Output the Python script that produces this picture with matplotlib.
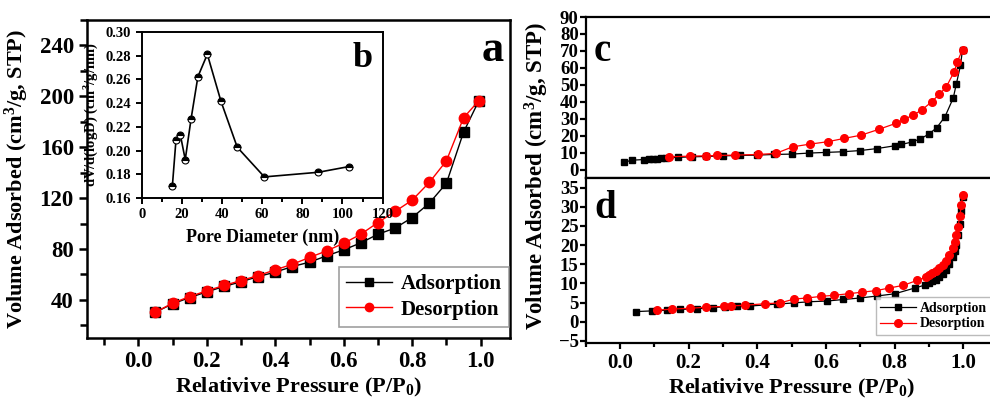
import numpy as np
import matplotlib.pyplot as plt
from matplotlib.ticker import MultipleLocator

plt.rcParams['font.family'] = 'Liberation Serif'
plt.rcParams['font.weight'] = 'bold'
plt.rcParams['axes.labelweight'] = 'bold'
plt.rcParams['mathtext.fontset'] = 'custom'
plt.rcParams['mathtext.rm'] = 'Liberation Serif:bold'
plt.rcParams['mathtext.bf'] = 'Liberation Serif:bold'
plt.rcParams['mathtext.it'] = 'Liberation Serif:bold'

# Panel a - isotherm
p_a = [0.05, 0.10, 0.15, 0.20, 0.25, 0.30, 0.35, 0.40, 0.45, 0.50,
       0.55, 0.60, 0.65, 0.70, 0.75, 0.80, 0.85, 0.90, 0.95, 0.995]
ads_a = [30.3, 36.9, 41.8, 46.3, 50.5, 54.2, 58.3, 61.8, 66.2, 69.6,
         74.6, 79.3, 84.8, 91.6, 96.4, 104.7, 116.0, 131.7, 171.8, 196.7]
des_a = [30.3, 37.4, 42.6, 47.1, 51.3, 55.2, 59.1, 63.6, 68.0, 73.3,
         78.5, 84.5, 91.6, 100.8, 109.5, 118.4, 132.3, 149.3, 183.1, 196.7]

# Panel b - pore size distribution (inset)
pore_d = [15.3, 17.1, 19.3, 21.7, 24.6, 28.0, 32.7, 39.5, 47.6, 61.1, 88.0, 103.2]
dvdlogd = [0.1704, 0.2092, 0.2129, 0.1924, 0.2267, 0.2623, 0.2812, 0.2415,
           0.2028, 0.1778, 0.1817, 0.1865]

# Panel c
p_c_ads = [0.013, 0.034, 0.070, 0.084, 0.097, 0.109, 0.120, 0.133, 0.17, 0.21,
           0.25, 0.30, 0.35, 0.40, 0.45, 0.50, 0.55, 0.60, 0.65, 0.70, 0.75,
           0.80, 0.82, 0.85, 0.874, 0.90, 0.923, 0.947, 0.971, 0.98, 0.992, 0.998]
v_c_ads = [4.3, 5.5, 5.9, 6.1, 6.3, 6.5, 6.7, 6.9, 7.2, 7.5, 7.7, 8.1, 8.3, 8.5,
           8.9, 9.1, 9.7, 10.1, 10.5, 11.2, 12.4, 14.0, 14.8, 16.2, 18.0, 20.9,
           24.7, 31.2, 42.2, 50.5, 61.4, 70.7]
p_c_des = [0.144, 0.203, 0.252, 0.283, 0.334, 0.402, 0.454, 0.503, 0.554, 0.605,
           0.654, 0.703, 0.754, 0.803, 0.828, 0.855, 0.879, 0.909, 0.930, 0.950,
           0.974, 0.983, 0.998]
v_c_des = [7.5, 7.9, 8.1, 8.3, 8.5, 8.9, 9.5, 13.4, 15.0, 16.4, 18.4, 20.3, 23.7,
           27.2, 29.6, 32.2, 35.1, 40.1, 44.4, 48.5, 57.8, 63.7, 70.7]

# Panel d
p_d_ads = [0.048, 0.094, 0.138, 0.176, 0.225, 0.271, 0.307, 0.341, 0.380, 0.457,
           0.506, 0.549, 0.603, 0.651, 0.700, 0.748, 0.801, 0.859, 0.89, 0.90,
           0.91, 0.92, 0.93, 0.94, 0.95, 0.96, 0.97, 0.975, 0.98, 0.985, 0.99,
           0.995, 0.998]
v_d_ads = [2.65, 2.83, 3.0, 3.2, 3.4, 3.7, 3.9, 4.0, 4.1, 4.6, 4.9, 5.2, 5.4, 5.8,
           6.2, 6.7, 7.3, 8.8, 9.6, 10.0, 10.5, 11.0, 11.7, 12.5, 13.5, 15.0,
           17.0, 18.5, 20.0, 22.5, 25.5, 29.0, 32.5]
p_d_des = [0.107, 0.152, 0.203, 0.252, 0.302, 0.322, 0.365, 0.422, 0.467, 0.506,
           0.545, 0.585, 0.624, 0.666, 0.704, 0.745, 0.785, 0.826, 0.866, 0.893,
           0.90, 0.91, 0.92, 0.93, 0.94, 0.95, 0.96, 0.97, 0.975, 0.98, 0.985,
           0.99, 0.995, 0.998]
v_d_des = [3.0, 3.3, 3.5, 3.8, 4.0, 4.1, 4.3, 4.7, 4.9, 5.9, 6.2, 6.6, 6.9, 7.3,
           7.7, 8.1, 8.8, 9.5, 10.8, 11.7, 12.1, 12.6, 13.2, 13.9, 14.8, 15.9,
           17.3, 19.3, 20.8, 22.5, 24.8, 27.5, 30.5, 33.0]


def style_axes(ax, lw=1.6, size=14, length=5):
    for s in ax.spines.values():
        s.set_linewidth(lw)
    ax.tick_params(which='both', direction='out', width=lw, labelsize=size,
                   top=False, right=False)
    ax.tick_params(which='major', length=length)
    ax.tick_params(which='minor', length=length * 0.8)


fig = plt.figure(figsize=(9.9, 4.0), dpi=100)

# ---- panel a ----
ax_a = fig.add_axes([0.0879, 0.155, 0.427, 0.795])
ax_a.plot(p_a, ads_a, '-s', color='black', ms=6.5, lw=1.0, label='Adsorption')
ax_a.plot(p_a, des_a, '-o', color='red', ms=7.5, lw=1.0, label='Desorption')
ax_a.set_xlim(-0.15, 1.085)
ax_a.set_ylim(10, 260)
ax_a.xaxis.set_major_locator(MultipleLocator(0.2))
ax_a.xaxis.set_minor_locator(MultipleLocator(0.1))
ax_a.yaxis.set_major_locator(MultipleLocator(40))
ax_a.yaxis.set_minor_locator(MultipleLocator(20))
style_axes(ax_a, lw=1.8, size=16.5, length=6)
ax_a.set_xlabel('Relativive Pressure (P/P$_\\mathbf{0}$)', fontsize=16, labelpad=3)
ax_a.set_ylabel('Volume Adsorbed (cm$^\\mathbf{3}$/g, STP)', fontsize=16, labelpad=6)
ax_a.text(0.985, 0.97, 'a', transform=ax_a.transAxes, ha='right', va='top',
          fontsize=32, fontweight='bold')
leg = ax_a.legend(loc='lower right', bbox_to_anchor=(0.998, 0.035), fontsize=15,
                  frameon=True, fancybox=False, edgecolor='#888888',
                  handlelength=2.2, borderpad=0.35, labelspacing=0.25,
                  handletextpad=0.4, borderaxespad=0, markerscale=0.8)
leg.get_frame().set_linewidth(1.2)

# ---- inset b ----
ax_b = fig.add_axes([0.1431, 0.505, 0.2434, 0.415])
ax_b.plot(pore_d, dvdlogd, '-o', color='black', ms=5, lw=1.2,
          fillstyle='top', markerfacecoloralt='white', markeredgewidth=0.8)
ax_b.set_xlim(0, 120)
ax_b.set_ylim(0.16, 0.30)
ax_b.xaxis.set_major_locator(MultipleLocator(20))
ax_b.xaxis.set_minor_locator(MultipleLocator(10))
ax_b.yaxis.set_major_locator(MultipleLocator(0.02))
ax_b.yaxis.set_major_formatter(plt.FormatStrFormatter('%.2f'))
style_axes(ax_b, lw=1.4, size=10.5, length=4)
ax_b.set_xlabel('Pore Diameter (nm)', fontsize=13, labelpad=5)
ax_b.set_ylabel('dV/d(logD) (cm$^\\mathbf{3}$/g/nm)', fontsize=10.5, labelpad=3)
ax_b.text(0.96, 0.94, 'b', transform=ax_b.transAxes, ha='right', va='top',
          fontsize=26, fontweight='bold')

# ---- panel c ----
ax_c = fig.add_axes([0.5916, 0.555, 0.416, 0.4025])
ax_c.plot(p_c_ads, v_c_ads, '-s', color='black', ms=4.8, lw=0.9)
ax_c.plot(p_c_des, v_c_des, '-o', color='red', ms=5.5, lw=0.9)
ax_c.set_xlim(-0.1, 1.1)
ax_c.set_ylim(-5, 90)
ax_c.yaxis.set_major_locator(MultipleLocator(10))
style_axes(ax_c, lw=1.6, size=13.5, length=4)
ax_c.tick_params(axis='x', which='both', bottom=False, labelbottom=False)
ax_c.yaxis.set_tick_params(pad=1)
ax_c.text(0.02, 0.90, 'c', transform=ax_c.transAxes, ha='left', va='top',
          fontsize=28, fontweight='bold')

# ---- panel d ----
ax_d = fig.add_axes([0.5916, 0.143, 0.416, 0.412])
ax_d.plot(p_d_ads, v_d_ads, '-s', color='black', ms=4.8, lw=0.9, label='Adsorption')
ax_d.plot(p_d_des, v_d_des, '-o', color='red', ms=5.5, lw=0.9, label='Desorption')
ax_d.set_xlim(-0.1, 1.1)
ax_d.set_ylim(-5.5, 37.5)
ax_d.xaxis.set_major_locator(MultipleLocator(0.2))
ax_d.xaxis.set_minor_locator(MultipleLocator(0.1))
ax_d.yaxis.set_major_locator(MultipleLocator(5))
style_axes(ax_d, lw=1.6, size=13.5, length=4)
ax_d.yaxis.set_tick_params(pad=1)
ax_d.xaxis.set_tick_params(labelsize=15)
ax_d.set_xlabel('Relativive Pressure (P/P$_\\mathbf{0}$)', fontsize=16, labelpad=3)
ax_d.text(0.02, 0.93, 'd', transform=ax_d.transAxes, ha='left', va='top',
          fontsize=28, fontweight='bold')
leg_d = ax_d.legend(loc='lower right', bbox_to_anchor=(0.985, 0.05), fontsize=10,
                    frameon=True, fancybox=False, edgecolor='#aaaaaa',
                    handlelength=2.6, borderpad=0.3, labelspacing=0.2,
                    handletextpad=0.3, borderaxespad=0)
leg_d.get_frame().set_linewidth(1.0)

fig.text(537 / 990, 0.56, 'Volume Adsorbed (cm$^\\mathbf{3}$/g, STP)',
         rotation=90, ha='center', va='center', fontsize=16.5, fontweight='bold')

fig.savefig('out.png', dpi=100)
